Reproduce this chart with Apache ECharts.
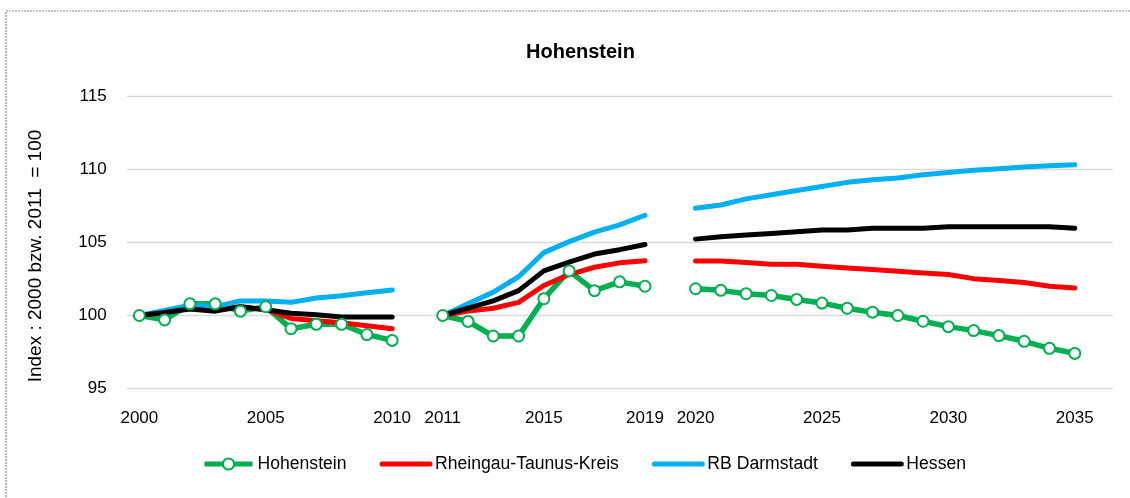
<!DOCTYPE html>
<html>
<head>
<meta charset="utf-8">
<script src="https://cdn.jsdelivr.net/npm/echarts@6/dist/echarts.min.js"></script>
<style>
  html, body { margin: 0; padding: 0; background: #ffffff; }
  #chart { width: 1130px; height: 498px; }
</style>
</head>
<body>
<div id="chart"></div>
<script>
// Years on the category axis; empty slots separate the three periods.
const years = [
  '2000','2001','2002','2003','2004','2005','2006','2007','2008','2009','2010',
  '',
  '2011','2012','2013','2014','2015','2016','2017','2018','2019',
  '',
  '2020','2021','2022','2023','2024','2025','2026','2027','2028','2029','2030',
  '2031','2032','2033','2034','2035',
  ''
];

// Years that carry a tick label
const labelledYears = ['2000','2005','2010','2011','2015','2019','2020','2025','2030','2035'];

// Index values (2000 = 100 resp. 2011 = 100)
const hohenstein = [
  100, 99.7, 100.8, 100.8, 100.3, 100.6, 99.1, 99.4, 99.4, 98.7, 98.3,
  null,
  100, 99.6, 98.6, 98.6, 101.15, 103.05, 101.7, 102.3, 102.0,
  null,
  101.83, 101.72, 101.49, 101.37, 101.1, 100.85, 100.5, 100.23, 100.0, 99.61, 99.24,
  98.97, 98.63, 98.24, 97.76, 97.41,
  null
];
const rheingauTaunus = [
  100, 100.2, 100.5, 100.4, 100.6, 100.4, 99.8, 99.65, 99.5, 99.3, 99.1,
  null,
  100, 100.3, 100.5, 100.9, 102.05, 102.8, 103.3, 103.6, 103.75,
  null,
  103.73, 103.73, 103.62, 103.5, 103.5, 103.37, 103.25, 103.14, 103.02, 102.9, 102.8,
  102.52, 102.4, 102.25, 102.0, 101.88,
  null
];
const rbDarmstadt = [
  100, 100.35, 100.7, 100.6, 101.0, 101.0, 100.9, 101.2, 101.35, 101.55, 101.75,
  null,
  100, 100.8, 101.6, 102.65, 104.3, 105.05, 105.7, 106.2, 106.85,
  null,
  107.33, 107.55, 107.97, 108.25, 108.54, 108.82, 109.1, 109.28, 109.4, 109.62, 109.78,
  109.92, 110.03, 110.15, 110.24, 110.3,
  null
];
const hessen = [
  100, 100.2, 100.45, 100.3, 100.6, 100.4, 100.15, 100.05, 99.9, 99.9, 99.9,
  null,
  100, 100.5, 101.0, 101.7, 103.05, 103.65, 104.2, 104.5, 104.85,
  null,
  105.22, 105.38, 105.5, 105.6, 105.72, 105.84, 105.84, 105.96, 105.96, 105.96, 106.07,
  106.07, 106.07, 106.07, 106.07, 105.96,
  null
];

const FONT = "'Liberation Sans', Arial, sans-serif";

const chart = echarts.init(document.getElementById('chart'), null, { renderer: 'canvas' });

function lineSeries(name, data, color) {
  return {
    name: name,
    type: 'line',
    data: data,
    connectNulls: false,
    symbol: 'none',
    showSymbol: false,
    color: color,
    lineStyle: { color: color, width: 5, cap: 'round', join: 'round' },
    emphasis: { disabled: true }
  };
}

// Legend entries for plain lines: hide the legend marker, keep the thick line
function plainLegendItem(name) {
  return {
    name: name,
    itemStyle: { opacity: 0 },
    lineStyle: { width: 5 }
  };
}

chart.setOption({
  animation: false,
  backgroundColor: '#ffffff',
  title: {
    text: 'Hohenstein',
    left: 521,
    top: 37,
    textStyle: { fontFamily: FONT, fontSize: 20, fontWeight: 'bold', color: '#000000' }
  },
  legend: {
    left: 197,
    top: 450,
    itemWidth: 48,
    itemHeight: 14,
    itemGap: 33,
    textStyle: { fontFamily: FONT, fontSize: 17.6, color: '#000000' },
    data: [
      { name: 'Hohenstein', lineStyle: { width: 5 } },
      plainLegendItem('Rheingau-Taunus-Kreis'),
      plainLegendItem('RB Darmstadt'),
      plainLegendItem('Hessen')
    ]
  },
  grid: { left: 126.7, top: 96, width: 986, height: 292.7 },
  xAxis: {
    type: 'category',
    data: years,
    boundaryGap: true,
    axisLine: { show: false },
    axisTick: { show: false },
    axisLabel: {
      interval: 0,
      margin: 21,
      fontFamily: FONT,
      fontSize: 17,
      color: '#000000',
      formatter: v => (labelledYears.indexOf(v) >= 0 ? v : '')
    },
    splitLine: { show: false }
  },
  yAxis: {
    type: 'value',
    min: 95,
    max: 115,
    interval: 5,
    axisLine: { show: false },
    axisTick: { show: false },
    axisLabel: { margin: 20, fontFamily: FONT, fontSize: 17, color: '#000000' },
    splitLine: { lineStyle: { color: '#d9d9d9', width: 1.3 } }
  },
  graphic: [
    {
      type: 'rect',
      silent: true,
      shape: { x: 6, y: 11, width: 1140, height: 510 },
      style: { fill: 'none', stroke: '#8a8a8a', lineWidth: 1.2, lineDash: [2, 1] }
    },
    {
      type: 'text',
      silent: true,
      x: 36,
      y: 256,
      rotation: Math.PI / 2,
      style: {
        text: 'Index : 2000 bzw. 2011  = 100',
        fontFamily: FONT,
        fontSize: 19,
        fill: '#000000',
        align: 'center',
        verticalAlign: 'middle'
      }
    }
  ],
  series: [
    {
      name: 'Hohenstein',
      type: 'line',
      data: hohenstein,
      connectNulls: false,
      symbol: 'circle',
      symbolSize: 11,
      showSymbol: true,
      color: '#00B050',
      lineStyle: { color: '#00B050', width: 5.5, join: 'round' },
      itemStyle: { color: '#ffffff', borderColor: '#00B050', borderWidth: 2 },
      emphasis: { disabled: true }
    },
    lineSeries('Rheingau-Taunus-Kreis', rheingauTaunus, '#FF0000'),
    lineSeries('RB Darmstadt', rbDarmstadt, '#00B0F0'),
    lineSeries('Hessen', hessen, '#000000')
  ]
});
</script>
</body>
</html>
